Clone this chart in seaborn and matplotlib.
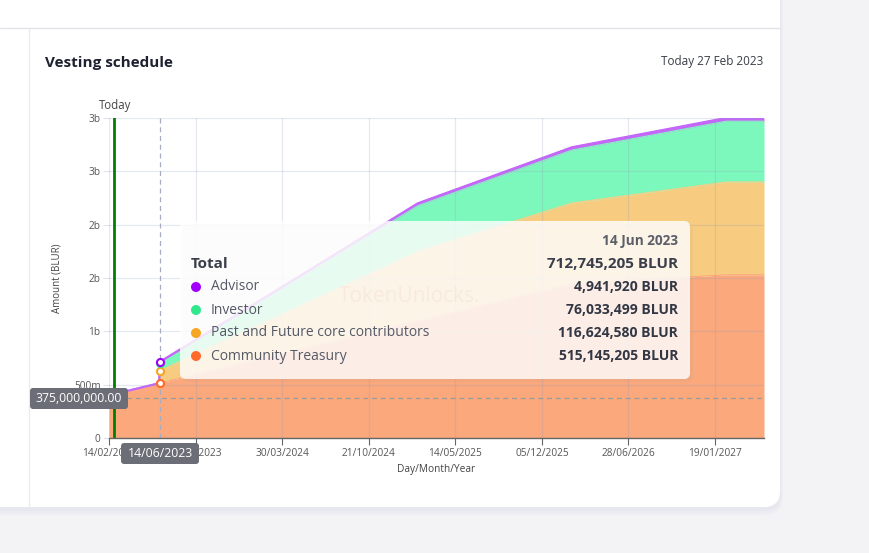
import numpy as np
import pandas as pd
import matplotlib
matplotlib.use("Agg")
import matplotlib.pyplot as plt
import matplotlib.dates as mdates
from matplotlib.patches import FancyBboxPatch, Circle
from matplotlib.lines import Line2D
import seaborn as sns

# ---------------- data (values in BLUR) ----------------
dates = ["2023-02-14", "2023-06-13", "2023-06-14", "2024-02-14",
         "2025-02-14", "2026-02-14", "2027-02-14", "2027-05-15"]
community = [400e6, 514e6, 515_145_205, 748e6, 1097e6, 1446e6, 1530e6, 1530e6]
contributors = [0, 0, 116_624_580, 331e6, 652e6, 757e6, 870e6, 870e6]
investor = [0, 0, 76_033_499, 217e6, 428e6, 496e6, 570e6, 570e6]
advisor = [0, 0, 4_941_920, 11.4e6, 22.5e6, 26.1e6, 30e6, 30e6]

series_names = ["Community Treasury", "Past and Future core contributors",
                "Investor", "Advisor"]
fill_colors = ["#fba87c", "#f7cc80", "#7df8bc", "#c466f8"]
dot_colors = ["#ff6a2a", "#f5a623", "#2ee88c", "#a200ff"]

x_tick_dates = ["2023-02-14", "2023-09-07", "2024-03-30", "2024-10-21",
                "2025-05-14", "2025-12-05", "2026-06-28", "2027-01-19"]
y_tick_values = [0, 0.5e9, 1.0e9, 1.5e9, 2.0e9, 2.5e9, 3.0e9]
y_tick_labels = ["0", "500m", "1b", "2b", "2b", "3b", "3b"]

today_date = "2023-02-27"
hover_date = "2023-06-14"
hover_y = 375_000_000

tooltip_date = "14 Jun 2023"
tooltip_total = "712,745,205 BLUR"
tooltip_labels = ["Advisor", "Investor", "Past and Future core contributors",
                  "Community Treasury"]
tooltip_values = ["4,941,920 BLUR", "76,033,499 BLUR", "116,624,580 BLUR",
                  "515,145,205 BLUR"]
tooltip_dots = ["#a200ff", "#2ee88c", "#f5a623", "#ff6a2a"]

# ---------------- figure ----------------
W, H = 869, 553
sns.set_theme(style="white")
plt.rcParams["font.family"] = ["Open Sans", "DejaVu Sans"]

fig = plt.figure(figsize=(W / 100, H / 100), dpi=100)
fig.patch.set_facecolor("#f3f3f5")

def P(x, y):
    return (x / 100, (H - y) / 100)

def box(x1, y1, x2, y2, r, **kw):
    p = FancyBboxPatch(P(x1, y2), (x2 - x1) / 100, (y2 - y1) / 100,
                       boxstyle=f"round,pad=0,rounding_size={r / 100}",
                       transform=fig.dpi_scale_trans, **kw)
    fig.add_artist(p)
    return p

def ftxt(x, y, s, **kw):
    kw.setdefault("va", "center")
    return fig.text(x / W, 1 - y / H, s, **kw)

# card background + soft shadow
for k, a in enumerate([0.25, 0.35, 0.5]):
    box(-30, -40, 780 + 3 - k, 507 + 8 - 2 * k, 18, facecolor="#e4e6ef",
        edgecolor="none", zorder=-3, alpha=a)
box(-30, -40, 780, 507, 16, facecolor="white", edgecolor="none", zorder=-2)
fig.add_artist(Line2D([0, 780 / W], [1 - 27.5 / H, 1 - 27.5 / H],
                      color="#e2e3e8", lw=1.0, zorder=-1))
fig.add_artist(Line2D([28.5 / W, 28.5 / W], [1 - 28 / H, 1 - 507 / H],
                      color="#ececf0", lw=1.0, zorder=-1))

# axes
ax = fig.add_axes([109 / W, 1 - 438 / H, (764 - 109) / W, (438 - 118) / H])
ax.set_facecolor("white")

x = pd.to_datetime(dates)
layers = [np.array(community, float), np.array(contributors, float),
          np.array(investor, float), np.array(advisor, float)]
cum = np.cumsum(np.vstack(layers), axis=0)

rows = []
for i, name in enumerate(series_names):
    for d, v in zip(x, cum[i]):
        rows.append({"date": d, "top": v, "series": name})
df = pd.DataFrame(rows)

lower = np.zeros(len(x))
for i in range(4):
    ax.fill_between(x, lower, cum[i], color=fill_colors[i], lw=0, zorder=1)
    lower = cum[i]
sns.lineplot(data=df, x="date", y="top", hue="series", palette=fill_colors,
             legend=False, lw=0.8, ax=ax, zorder=2)
# slightly thicker advisor band edge on the top
ax.plot(x, cum[3], color="#c466f8", lw=1.6, zorder=2.5)

# grid on top (translucent)
xt = pd.to_datetime(x_tick_dates)
for t in xt:
    ax.axvline(t, color=(0.55, 0.6, 0.75), alpha=0.22, lw=0.9, zorder=3)
for v in y_tick_values:
    ax.axhline(v, color=(0.55, 0.6, 0.75), alpha=0.22, lw=0.9, zorder=3)

ax.set_xlim(pd.Timestamp("2023-02-14"), pd.Timestamp("2027-05-15"))
ax.set_ylim(0, 3.0e9)
ax.set_xticks(xt)
ax.xaxis.set_major_formatter(mdates.DateFormatter("%d/%m/%Y"))
ax.set_yticks(y_tick_values)
ax.set_yticklabels(y_tick_labels)
ax.tick_params(axis="x", length=5, width=0.8, color="#666666", labelsize=7.3,
               labelcolor="#555555", pad=2, bottom=True)
ax.tick_params(axis="y", length=4, width=0.8, color="#e0e3ee", labelsize=7.3,
               labelcolor="#555555", pad=2, left=True)
for s in ["top", "right", "left"]:
    ax.spines[s].set_visible(False)
ax.spines["bottom"].set_color("#666666")
ax.spines["bottom"].set_linewidth(1.0)
ax.spines["bottom"].set_zorder(6)
ax.set_xlabel("Day/Month/Year", fontsize=7.3, color="#444444", labelpad=4)
ax.set_ylabel("")
ftxt(57, 278, "Amount (BLUR)", fontsize=7, color="#444444", rotation=90,
     ha="center")

# today line + hover crosshair
ax.axvline(pd.Timestamp(today_date), color="#008000", lw=2.0, zorder=5)
ax.axvline(pd.Timestamp(hover_date), color="#a7adc2", lw=0.9,
           ls=(0, (4, 3)), zorder=4)
ax.axhline(hover_y, color="#9a9a9a", lw=0.9, ls=(0, (4, 3)), zorder=4)
ftxt(115, 106, "Today", fontsize=8.3, color="#444444", ha="center")

# hover markers
hd = pd.Timestamp(hover_date)
hi = list(x).index(hd)
for i in range(4):
    ax.scatter([hd], [cum[i][hi]], s=26, facecolor="white",
               edgecolor=dot_colors[i], linewidth=1.5, zorder=7)

# title texts
ftxt(45, 63, "Vesting schedule", fontsize=11, fontweight="bold",
     color="#1e2130", ha="left")
ftxt(763, 62, "Today 27 Feb 2023", fontsize=8.5, color="#3a3d48", ha="right")

# badges
box(30, 388, 128, 409, 3, facecolor="#6c6e77", edgecolor="none", zorder=8)
ftxt(79, 398.5, "375,000,000.00", fontsize=8.8, color="white", ha="center", zorder=9)
box(121, 443, 199, 464, 3, facecolor="#6c6e77", edgecolor="none", zorder=8)
ftxt(160, 453.5, "14/06/2023", fontsize=8.8, color="white", ha="center", zorder=9)

# tooltip
box(182, 224, 693, 382, 7, facecolor="#b0a090", edgecolor="none", alpha=0.12, zorder=6)
box(180, 221, 690, 379, 6, facecolor="white", edgecolor="none", alpha=0.82, zorder=6)
ftxt(410, 296, "TokenUnlocks.", fontsize=15, color="#e8b8a2", alpha=0.14,
     ha="center", zorder=6.5)
ftxt(678, 241, tooltip_date, fontsize=9.8, fontweight="bold",
     color="#5c5f68", ha="right", zorder=7)
ftxt(191, 264, "Total", fontsize=11, fontweight="bold", color="#3b3e4a",
     ha="left", zorder=7)
ftxt(678, 264, tooltip_total, fontsize=11, fontweight="bold",
     color="#3b3e4a", ha="right", zorder=7)
for k, (lab, val, col) in enumerate(zip(tooltip_labels, tooltip_values, tooltip_dots)):
    yy = 287 + 23 * k
    c = Circle(P(196, yy), 5 / 100, transform=fig.dpi_scale_trans,
               facecolor=col, edgecolor="none", zorder=7)
    fig.add_artist(c)
    ftxt(211, yy, lab, fontsize=10, color="#555966", ha="left", zorder=7)
    ftxt(678, yy, val, fontsize=10, fontweight="bold", color="#333744",
         ha="right", zorder=7)

fig.savefig("out.png", dpi=100, facecolor=fig.get_facecolor())
